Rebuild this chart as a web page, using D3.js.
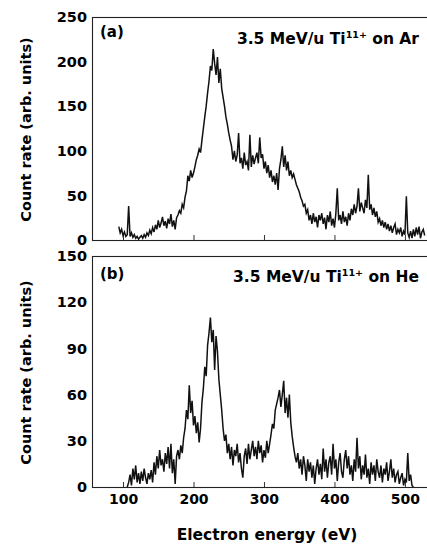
<!DOCTYPE html>
<html>
<head>
<meta charset="utf-8">
<script src="https://cdn.jsdelivr.net/npm/d3@7"></script>
<style>
  body { margin: 0; background: #fff; }
  svg { display: block; }
  text { font-family: "DejaVu Sans", sans-serif; font-weight: bold; fill: #000; }
</style>
</head>
<body>
<script>
// electron energy channels (eV), 2 eV per channel
const energyStep = 2;
const energyStartAr = 94;
const energyStartHe = 106;

// (a) 3.5 MeV/u Ti11+ on Ar, counts
const countsAr = [
  15, 8, 12, 5, 9, 4, 6, 38, 4, 8,
  3, 6, 2, 4, 1, 3, 5, 2, 6, 3,
  8, 5, 11, 7, 14, 9, 17, 12, 22, 14,
  19, 26, 16, 21, 13, 24, 18, 29, 15, 22,
  12, 25, 28, 33, 30, 40, 36, 48, 55, 72,
  66, 78, 70, 75, 82, 90, 95, 102, 98, 112,
  125, 138, 150, 165, 178, 195, 190, 214, 198, 185,
  205, 176, 192, 170, 160, 150, 138, 130, 120, 112,
  105, 90, 100, 88, 95, 120, 86, 92, 80, 98,
  84, 88, 78, 118, 82, 95, 85, 92, 98, 86,
  115, 92, 96, 80, 88, 75, 84, 70, 78, 65,
  72, 62, 75, 56, 80, 90, 105, 82, 95, 78,
  88, 72, 78, 70, 74, 68, 62, 58, 54, 48,
  44, 38, 40, 30, 34, 22, 28, 18, 30, 20,
  26, 14, 28, 22, 30, 18, 25, 12, 28, 20,
  32, 16, 24, 14, 30, 58, 22, 28, 18, 32,
  20, 26, 16, 30, 22, 35, 28, 40, 30, 38,
  58, 32, 42, 36, 30, 45, 36, 73, 34, 40,
  28, 36, 26, 32, 20, 24, 16, 22, 14, 20,
  12, 18, 10, 16, 8, 14, 18, 6, 12, 8,
  14, 4, 10, 6, 49, 8, 3, 10, 2, 12,
  4, 14, 6, 15, 2, 9, 12, 5
];

// (b) 3.5 MeV/u Ti11+ on He
const countsHe = [
  0, 3, 8, 1, 12, 5, 14, 3, 9, 2,
  10, 4, 12, 6, 2, 9, 5, 11, 3, 16,
  8, 20, 12, 24, 14, 18, 10, 22, 15, 26,
  12, 28, 9, 18, 2, 20, 24, 18, 27, 22,
  32, 38, 50, 44, 66, 48, 56, 40, 46, 35,
  42, 29, 38, 55, 64, 78, 72, 92, 100, 110,
  94, 102, 76, 98, 88, 70, 60, 50, 38, 30,
  34, 22, 28, 18, 26, 14, 24, 20, 28, 16,
  22, 12, 6, 20, 25, 15, 28, 18, 24, 30,
  20, 26, 18, 30, 22, 27, 16, 24, 19, 30,
  22, 28, 34, 41, 38, 50, 54, 58, 63, 52,
  60, 69, 48, 58, 45, 60, 42, 33, 26, 20,
  16, 22, 12, 18, 8, 20, 14, 4, 18, 10,
  16, 6, 14, 2, 12, 18, 8, 15, 5, 25,
  10, 18, 6, 16, 20, 8, 28, 12, 18, 4,
  16, 22, 10, 6, 18, 24, 12, 20, 8, 14,
  4, 18, 10, 32, 12, 20, 5, 14, 8, 21,
  6, 12, 2, 16, 8, 14, 4, 18, 10, 6,
  14, 3, 12, 8, 16, 4, 10, 18, 6, 12,
  3, 8, 10, 2, 6, 9, 1, 5, 3, 22,
  4, 8, 1, 0
];

const xTicks = [100, 200, 300, 400, 500];
const yTicksAr = [0, 50, 100, 150, 200, 250];
const yTicksHe = [0, 30, 60, 90, 120, 150];

const width = 427, height = 544;

const panels = [
  { label: "(a)", target: "Ar", start: energyStartAr, counts: countsAr, ticks: yTicksAr,
    max: 250, top: 17, bottom: 240, titleY: 44, tagY: 37, showXTicks: false },
  { label: "(b)", target: "He", start: energyStartHe, counts: countsHe, ticks: yTicksHe,
    max: 150, top: 256, bottom: 487, titleY: 282, tagY: 279, showXTicks: true },
];

const left = 92;

const svg = d3.select("body").append("svg")
  .attr("width", width)
  .attr("height", height);

const x = d3.scaleLinear().domain([56, 532]).range([left, width + 0.5]);

panels.forEach((p) => {
  const y = d3.scaleLinear().domain([0, p.max]).range([p.bottom, p.top]);
  const g = svg.append("g");

  // frame (right edge runs off the picture)
  g.append("rect")
    .attr("x", left + 0.5)
    .attr("y", p.top + 0.5)
    .attr("width", width + 2 - left)
    .attr("height", p.bottom - p.top)
    .attr("fill", "none")
    .attr("stroke", "#222")
    .attr("stroke-width", 1.1);

  // y axis labels
  const yAxis = g.append("g")
    .attr("transform", `translate(${left},0)`)
    .call(d3.axisLeft(y).tickValues(p.ticks).tickSize(0).tickPadding(5));
  yAxis.select(".domain").remove();
  yAxis.selectAll("text")
    .attr("font-size", 14.5)
    .attr("font-family", "DejaVu Sans")
    .attr("font-weight", "bold")
    .attr("fill", "#000");

  // x ticks pointing inward
  const xAxis = g.append("g")
    .attr("transform", `translate(0,${p.bottom})`)
    .call(d3.axisBottom(x).tickValues(xTicks).tickSizeInner(-5).tickSizeOuter(0).tickPadding(7));
  xAxis.select(".domain").remove();
  xAxis.selectAll("line").attr("stroke", "#333");
  if (p.showXTicks) {
    xAxis.selectAll("text")
      .attr("font-size", 14)
      .attr("font-family", "DejaVu Sans")
      .attr("font-weight", "bold")
      .attr("fill", "#000");
  } else {
    xAxis.selectAll("text").remove();
  }

  // spectrum
  const pts = p.counts.map((c, i) => [p.start + i * energyStep, c]);
  const line = d3.line()
    .x((d) => x(d[0]))
    .y((d) => y(d[1]));
  g.append("path")
    .datum(pts)
    .attr("d", line)
    .attr("fill", "none")
    .attr("stroke", "#111")
    .attr("stroke-width", 1.5)
    .attr("stroke-linejoin", "miter");

  // panel tag
  g.append("text")
    .attr("x", 100)
    .attr("y", p.tagY)
    .attr("font-size", 15)
    .text(p.label);

  // beam/target annotation
  const t = g.append("text")
    .attr("x", 419)
    .attr("y", p.titleY)
    .attr("text-anchor", "end")
    .attr("font-size", 15.5);
  t.append("tspan").text("3.5 MeV/u Ti");
  t.append("tspan").attr("font-size", 9.5).attr("dy", -6).text("11+");
  t.append("tspan").attr("dy", 6).text(" on " + p.target);

  // y title
  svg.append("text")
    .attr("transform", `translate(31,${(p.top + p.bottom) / 2 + 1}) rotate(-90)`)
    .attr("text-anchor", "middle")
    .attr("font-size", 14.5)
    .text("Count rate (arb. units)");
});

svg.append("text")
  .attr("x", 267)
  .attr("y", 540)
  .attr("text-anchor", "middle")
  .attr("font-size", 15.5)
  .text("Electron energy (eV)");
</script>
</body>
</html>
